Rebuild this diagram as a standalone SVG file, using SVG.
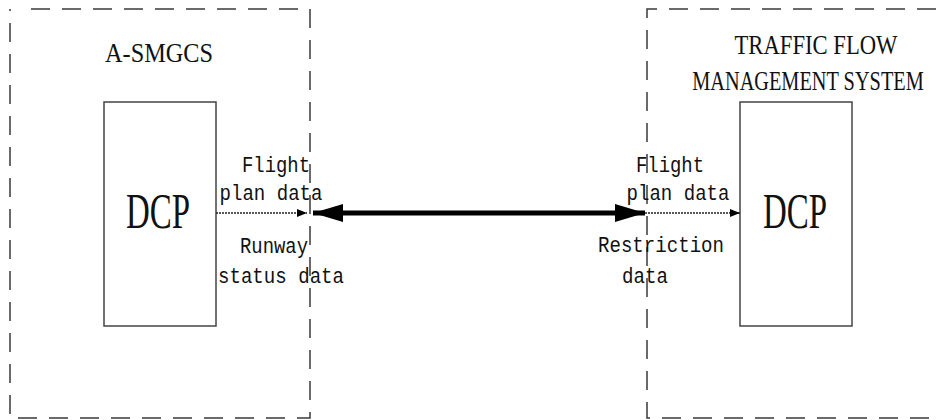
<svg xmlns="http://www.w3.org/2000/svg" width="936" height="420" viewBox="0 0 936 420">
  <defs>
    <style>
      .zone { fill: none; stroke: #3a3a3a; stroke-width: 1.5; stroke-dasharray: 19 12; }
      .dcp { fill: #fff; stroke: #444; stroke-width: 1.5; }
      .big { font-family: "Liberation Serif", serif; font-size: 50px; fill: #111; }
      .title { font-family: "Liberation Serif", serif; font-size: 27px; fill: #111; }
      .lbl { font-family: "Liberation Mono", monospace; font-size: 22px; fill: #111; }
      .data { stroke: #222; stroke-width: 1.3; stroke-dasharray: 2 1; fill: none; }
      .link { stroke: #000; stroke-width: 5; fill: none; }
    </style>
    <marker id="small" markerWidth="10" markerHeight="8" refX="10" refY="4" orient="auto" markerUnits="userSpaceOnUse">
      <path d="M0,0 L10,4 L0,8 Z" fill="#000"/>
    </marker>
    <marker id="bigEnd" markerWidth="30" markerHeight="18" refX="30" refY="9" orient="auto" markerUnits="userSpaceOnUse">
      <path d="M0,0 L30,9 L0,18 Z" fill="#000"/>
    </marker>
    <marker id="bigStart" markerWidth="30" markerHeight="18" refX="0" refY="9" orient="auto" markerUnits="userSpaceOnUse">
      <path d="M30,0 L0,9 L30,18 Z" fill="#000"/>
    </marker>
  </defs>
  <rect width="936" height="420" fill="#fff"/>

  <g id="asmgcs">
    <path class="zone" d="M31,9 H310 V418 H10 V9"/>
    <text class="title" x="159" y="62" text-anchor="middle" textLength="108" lengthAdjust="spacingAndGlyphs">A-SMGCS</text>
  </g>

  <g id="tfms">
    <path class="zone" d="M936,9 H647 V418 H936"/>
    <text class="title" x="816" y="54" text-anchor="middle" textLength="163" lengthAdjust="spacingAndGlyphs">TRAFFIC FLOW</text>
    <text class="title" x="808" y="90" text-anchor="middle" transform="translate(808,0) scale(0.753,1) translate(-808,0)">MANAGEMENT SYSTEM</text>
  </g>

  <g id="dcp-left">
    <rect class="dcp" x="104" y="102" width="112" height="224"/>
    <text class="big" x="158" y="228" text-anchor="middle" textLength="64" lengthAdjust="spacingAndGlyphs">DCP</text>
  </g>

  <g id="dcp-right">
    <rect class="dcp" x="740" y="102" width="112" height="224"/>
    <text class="big" x="795" y="228" text-anchor="middle" textLength="64" lengthAdjust="spacingAndGlyphs">DCP</text>
  </g>

  <g id="connectors">
    <line class="data" x1="216" y1="213" x2="307" y2="213" marker-end="url(#small)"/>
    <line class="link" x1="313" y1="213" x2="645" y2="213" marker-start="url(#bigStart)" marker-end="url(#bigEnd)"/>
    <line class="data" x1="645" y1="213" x2="740" y2="213" marker-end="url(#small)"/>
  </g>

  <g id="labels-left">
    <text class="lbl" x="276" y="172" text-anchor="middle" textLength="68" lengthAdjust="spacingAndGlyphs">Flight</text>
    <text class="lbl" x="271" y="200" text-anchor="middle" textLength="103" lengthAdjust="spacingAndGlyphs">plan data</text>
    <text class="lbl" x="274" y="253" text-anchor="middle" textLength="68" lengthAdjust="spacingAndGlyphs">Runway</text>
    <text class="lbl" x="281" y="283" text-anchor="middle" textLength="126" lengthAdjust="spacingAndGlyphs">status data</text>
  </g>

  <g id="labels-right">
    <text class="lbl" x="670" y="172" text-anchor="middle" textLength="68" lengthAdjust="spacingAndGlyphs">Flight</text>
    <text class="lbl" x="678" y="200" text-anchor="middle" textLength="103" lengthAdjust="spacingAndGlyphs">plan data</text>
    <text class="lbl" x="661" y="252" text-anchor="middle" textLength="126" lengthAdjust="spacingAndGlyphs">Restriction</text>
    <text class="lbl" x="645" y="283" text-anchor="middle" textLength="46" lengthAdjust="spacingAndGlyphs">data</text>
  </g>
</svg>
